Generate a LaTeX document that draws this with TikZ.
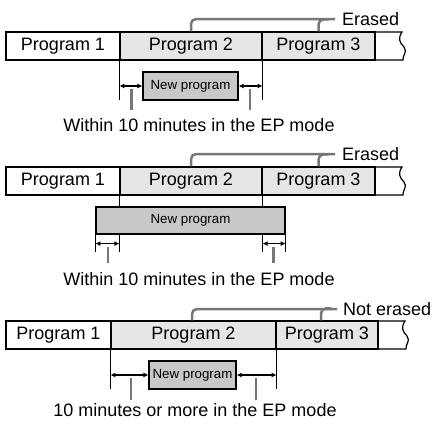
\documentclass[tikz,border=0pt]{standalone}
\usepackage{fontspec}
\setmainfont{Liberation Sans}
\usetikzlibrary{arrows.meta,calc}
\definecolor{lightg}{HTML}{E6E6E6}
\definecolor{boxg}{HTML}{C8C8C8}
\definecolor{brkg}{HTML}{777777}
\newcommand\lblfont{\fontsize{18}{20}\selectfont}
\newcommand\smallfont{\fontsize{13.3}{15}\selectfont}
\begin{document}
\begin{tikzpicture}[x=1pt,y=-1pt,
  cell/.style={draw=black, line width=1.2pt, minimum height=28pt, inner sep=0pt, font=\lblfont},
  graycell/.style={cell, fill=lightg},
  newbox/.style={draw=black, line width=1.2pt, fill=boxg, inner sep=0pt, font=\smallfont},
  brk/.style={draw=brkg, line width=2.5pt, rounded corners=5pt},
  stem/.style={draw=brkg, line width=2.5pt},
  vline/.style={draw=black, line width=1pt},
  dimarr/.style={draw=black, line width=1.2pt, {Latex[length=5pt,width=5pt]}-{Latex[length=5pt,width=5pt]}},
  tag/.style={anchor=west, inner sep=0pt, font=\lblfont},
  captext/.style={inner sep=0pt, font=\lblfont},
  tapeend/.pic={\draw[line width=1.2pt] (0,0) -- (27,0) .. controls (23,6) and (24,10) .. (29,15) .. controls (33,20) and (27,24) .. (28,28) -- (0,28);}
]
\useasboundingbox (0,0) rectangle (434,424);

% ---------- Panel 1 ----------
\node[cell, minimum width=114pt] (a1) at (63,46) {Program 1};
\node[graycell, minimum width=142pt] (a2) at (191,46) {Program 2};
\node[graycell, minimum width=113pt] (a3) at (318.5,46) {Program 3};
\pic at (375,32) {tapeend};
\node[tag] (ea) at (342,19) {Erased};
\draw[brk] (a2.north) |- ([xshift=-7pt]ea.west);
\draw[brk] (a3.north) |- ++(10,-12);
\node[newbox, minimum width=95pt, minimum height=28pt] (na) at (190.5,86) {New program};
\draw[vline] (a2.south west) -- ++(0,39);
\draw[vline] (a2.south east) -- ++(0,39);
\draw[dimarr] (na.west -| a2.south west) -- (na.west);
\draw[dimarr] (na.east) -- (na.east -| a2.south east);
\coordinate (sa1) at (131.5,89);
\coordinate (sa2) at (250,89);
\draw[stem] (sa1) -- ++(0,21);
\draw[stem] (sa2) -- ++(0,21);
\node[captext] (ca) at (199,125) {Within 10 minutes in the EP mode};

% ---------- Panel 2 ----------
\node[cell, minimum width=114pt] (b1) at (63,181) {Program 1};
\node[graycell, minimum width=142pt] (b2) at (191,181) {Program 2};
\node[graycell, minimum width=113pt] (b3) at (318.5,181) {Program 3};
\pic at (375,167) {tapeend};
\node[tag] (eb) at (342,154) {Erased};
\draw[brk] (b2.north) |- ([xshift=-7pt]eb.west);
\draw[brk] (b3.north) |- ++(10,-12);
\node[newbox, minimum width=189pt, minimum height=27pt] (nb) at (190.5,220.5) {New program};
\draw[vline] (b2.south west) -- (b2.south west |- nb.north);
\draw[vline] (b2.south east) -- (b2.south east |- nb.north);
\coordinate (bl1) at (nb.south west);
\coordinate (bl2) at (nb.south west -| b2.south west);
\coordinate (bl3) at (nb.south east -| b2.south east);
\coordinate (bl4) at (nb.south east);
\draw[vline] (bl1) -- ++(0,17);
\draw[vline] (bl2) -- ++(0,17);
\draw[vline] (bl3) -- ++(0,17);
\draw[vline] (bl4) -- ++(0,17);
\draw[dimarr] ([yshift=-9pt]bl1) -- ([yshift=-9pt]bl2);
\draw[dimarr] ([yshift=-9pt]bl3) -- ([yshift=-9pt]bl4);
\coordinate (sb1) at (108,247);
\coordinate (sb2) at (273.5,247);
\draw[stem] (sb1) -- ++(0,16);
\draw[stem] (sb2) -- ++(0,16);
\node[captext] (cb) at (199,279.5) {Within 10 minutes in the EP mode};

% ---------- Panel 3 ----------
\node[cell, minimum width=105pt] (c1) at (58.5,335) {Program 1};
\node[graycell, minimum width=165pt] (c2) at (193.5,335) {Program 2};
\node[graycell, minimum width=102pt] (c3) at (327,335) {Program 3};
\pic at (378,321) {tapeend};
\node[tag] (ec) at (343,309) {Not erased};
\draw[brk] ([xshift=-1.5pt]c2.north) |- ([xshift=-6pt]ec.west);
\draw[brk] ([xshift=-6pt]c3.north) |- ++(10,-12);
\node[newbox, minimum width=87pt, minimum height=28pt] (nc) at (192.5,375) {New program};
\draw[vline] (c2.south west) -- ++(0,39);
\draw[vline] (c2.south east) -- ++(0,39);
\draw[dimarr] (nc.west -| c2.south west) -- (nc.west);
\draw[dimarr] (nc.east) -- (nc.east -| c2.south east);
\coordinate (sc1) at (131,378);
\coordinate (sc2) at (256,378);
\draw[stem] (sc1) -- ++(0,22);
\draw[stem] (sc2) -- ++(0,22);
\node[captext] (cc) at (195,410.5) {10 minutes or more in the EP mode};
\end{tikzpicture}
\end{document}
